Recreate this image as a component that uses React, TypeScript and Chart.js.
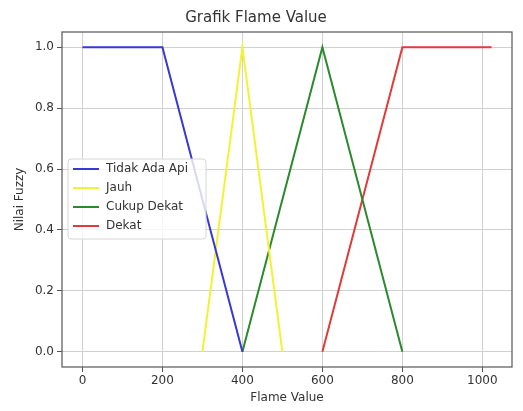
import React, { useEffect, useRef } from "react";
import { Chart, registerables } from "chart.js";

Chart.register(...registerables);

const tidakAdaApiX = [0, 200, 400];
const tidakAdaApiY = [1, 1, 0];
const jauhX = [300, 400, 500];
const jauhY = [0, 1, 0];
const cukupDekatX = [400, 600, 800];
const cukupDekatY = [0, 1, 0];
const dekatX = [600, 800, 1023];
const dekatY = [0, 1, 1];

const seriesLabels = ["Tidak Ada Api", "Jauh", "Cukup Dekat", "Dekat"];
const seriesColors = ["#3838d4", "#f2f232", "#2c8a2c", "#e23a3a"];
const xTicks = [0, 200, 400, 600, 800, 1000];
const yTicks = [0, 0.2, 0.4, 0.6, 0.8, 1.0];

const FONT = "DejaVu Sans";
const TEXT = "#333333";

const toPts = (xs: number[], ys: number[]) => xs.map((x, i) => ({ x, y: ys[i] }));

const framePlugin = {
  id: "frameAndLegend",
  afterDraw(chart: any) {
    const { ctx, chartArea } = chart;
    ctx.save();
    ctx.strokeStyle = "#555555";
    ctx.lineWidth = 1.2;
    ctx.strokeRect(chartArea.left, chartArea.top, chartArea.right - chartArea.left, chartArea.bottom - chartArea.top);

    // legend
    const bx = 68, by = 159, bw = 138, bh = 80, r = 3;
    ctx.beginPath();
    ctx.moveTo(bx + r, by);
    ctx.lineTo(bx + bw - r, by);
    ctx.quadraticCurveTo(bx + bw, by, bx + bw, by + r);
    ctx.lineTo(bx + bw, by + bh - r);
    ctx.quadraticCurveTo(bx + bw, by + bh, bx + bw - r, by + bh);
    ctx.lineTo(bx + r, by + bh);
    ctx.quadraticCurveTo(bx, by + bh, bx, by + bh - r);
    ctx.lineTo(bx, by + r);
    ctx.quadraticCurveTo(bx, by, bx + r, by);
    ctx.closePath();
    ctx.fillStyle = "rgba(255,255,255,0.8)";
    ctx.fill();
    ctx.strokeStyle = "#d6d6d6";
    ctx.lineWidth = 1;
    ctx.stroke();

    ctx.font = `12px '${FONT}'`;
    ctx.textBaseline = "middle";
    ctx.textAlign = "left";
    chart.data.datasets.forEach((ds: any, i: number) => {
      const y = 169 + i * 19;
      ctx.strokeStyle = ds.borderColor;
      ctx.lineWidth = 2;
      ctx.beginPath();
      ctx.moveTo(73, y);
      ctx.lineTo(99, y);
      ctx.stroke();
      ctx.fillStyle = TEXT;
      ctx.fillText(ds.label, 106, y);
    });
    ctx.restore();
  },
};

export default function App() {
  const ref = useRef<HTMLCanvasElement>(null);
  useEffect(() => {
    const xsList = [tidakAdaApiX, jauhX, cukupDekatX, dekatX];
    const ysList = [tidakAdaApiY, jauhY, cukupDekatY, dekatY];
    const chart = new Chart(ref.current!, {
      type: "scatter",
      data: {
        datasets: seriesLabels.map((label, i) => ({
          label,
          data: toPts(xsList[i], ysList[i]),
          showLine: true,
          borderColor: seriesColors[i],
          backgroundColor: seriesColors[i],
          borderWidth: 2,
          pointRadius: 0,
          tension: 0,
        })),
      },
      options: {
        responsive: false,
        animation: false,
        layout: { padding: { left: 0, right: 11, top: 0, bottom: 0 } },
        plugins: {
          legend: { display: false },
          tooltip: { enabled: false },
          title: {
            display: true,
            text: "Grafik Flame Value",
            color: TEXT,
            font: { family: FONT, size: 15, weight: "normal" },
            padding: { top: 9, bottom: 5 },
          },
        },
        scales: {
          x: {
            type: "linear",
            min: -51.15,
            max: 1074.15,
            afterBuildTicks: (scale: any) => {
              scale.ticks = xTicks.map((v) => ({ value: v }));
            },
            afterFit: (scale: any) => {
              scale.height = 44;
            },
            grid: { color: "#d0d0d0", lineWidth: 1, tickLength: 5, tickColor: "#555555" },
            border: { display: false },
            ticks: {
              color: TEXT,
              font: { family: FONT, size: 12 },
              padding: 2,
              maxRotation: 0,
              callback: (v: any) => String(v),
            },
            title: {
              display: true,
              text: "Flame Value",
              color: TEXT,
              font: { family: FONT, size: 12 },
              padding: { top: 0, bottom: 5.8 },
            },
          },
          y: {
            type: "linear",
            min: -0.05,
            max: 1.05,
            afterBuildTicks: (scale: any) => {
              scale.ticks = yTicks.map((v) => ({ value: v }));
            },
            afterFit: (scale: any) => {
              scale.width = 62;
            },
            grid: { color: "#d0d0d0", lineWidth: 1, tickLength: 5, tickColor: "#555555" },
            border: { display: false },
            ticks: {
              color: TEXT,
              font: { family: FONT, size: 12 },
              padding: 3,
              callback: (v: any) => Number(v).toFixed(1),
            },
            title: {
              display: true,
              text: "Nilai Fuzzy",
              color: TEXT,
              font: { family: FONT, size: 12 },
              padding: { top: 12.8, bottom: 0 },
            },
          },
        },
      },
      plugins: [framePlugin],
    } as any);
    return () => chart.destroy();
  }, []);
  return (
    <div style={{ position: "absolute", left: 0, top: 0, width: 523, height: 411, background: "#fff" }}>
      <canvas ref={ref} width={523} height={411} />
    </div>
  );
}
